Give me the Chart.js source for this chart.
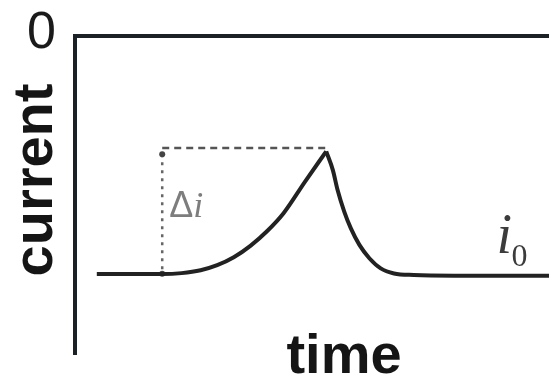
<!DOCTYPE html>
<html lang="en">

<head>
    <meta charset="UTF-8">
    <title>current vs time</title>
    <script src="https://cdn.jsdelivr.net/npm/chart.js"></script>
    <style>
        body { margin: 0; background: #fff; }
        #grafico { display: block; }
    </style>
</head>

<body>
    <canvas id="grafico" width="553" height="388"></canvas>
</body>

</html>

<script>
    // dados (tempo e corrente em unidades arbitrarias)
    var tempoSubida = [4.6, 18.4, 22.5, 26.5, 30.0, 33.5, 37.0, 40.5, 44.0, 48.5, 53.0]
    var correnteSubida = [-75.1, -75.1, -74.8, -73.9, -72.3, -69.8, -66.2, -61.6, -55.9, -46.0, -36.4]
    var tempoDescida = [53.0, 54.4, 55.4, 56.8, 58.2, 60.0, 62.1, 64.5, 67.3, 71.5, 80.0, 100]
    var correnteDescida = [-36.4, -42.3, -48.6, -55.4, -60.7, -65.9, -70.1, -73.3, -74.9, -75.4, -75.6, -75.6]

    // linhas tracejadas do delta i
    var tempoDelta = [18.4, 53.0]
    var correnteDelta = [-35.3, -75.0]

    var yTicks = [0]

    function pontos(xs, ys) {
        return xs.map((x, i) => ({ x: x, y: ys[i] }))
    }

    const corEixo = '#1b2124'

    // textos extras (titulos dos eixos, tick e rotulos)
    const rotulos = {
        id: 'rotulos',
        afterDraw(chart) {
            const c = chart.ctx
            const sx = chart.scales.x
            const sy = chart.scales.y
            c.save()

            // tick do eixo y
            c.fillStyle = '#1a1a1a'
            c.font = '52px "Liberation Sans"'
            c.textAlign = 'right'
            c.textBaseline = 'middle'
            yTicks.forEach(v => {
                c.fillText(String(v), sx.left - 19, sy.getPixelForValue(v) - 2)
            })

            c.fillStyle = '#151515'
            c.font = 'bold 56px "Liberation Sans"'
            c.textAlign = 'center'
            c.textBaseline = 'alphabetic'
            c.fillText('time', 344, 373)

            c.translate(52, 180)
            c.rotate(-Math.PI / 2)
            c.fillText('current', 0, 0)
            c.setTransform(1, 0, 0, 1, 0, 0)

            // delta i
            c.textAlign = 'left'
            c.fillStyle = '#7d7d7d'
            c.font = '36px "Liberation Sans"'
            var xd = sx.getPixelForValue(tempoDelta[0]) + 7
            var yd = sy.getPixelForValue(-57.1)
            c.fillText('Δ', xd, yd)
            var w = c.measureText('Δ').width
            c.font = 'italic 36px "Liberation Serif"'
            c.fillText('i', xd + w, yd)

            // i0
            c.fillStyle = '#3c3c3c'
            c.font = 'italic 56px "Liberation Serif"'
            var xi = sx.getPixelForValue(88.9)
            var yi = sy.getPixelForValue(-68.5)
            c.fillText('i', xi, yi)
            c.font = '32px "Liberation Serif"'
            c.fillText('0', xi + 15, yi + 13)

            c.restore()
        }
    }

    new Chart(document.getElementById('grafico'), {
        type: 'line',
        data: {
            datasets: [{
                data: pontos(tempoSubida, correnteSubida),
                borderColor: '#222',
                borderWidth: 4,
                pointRadius: 0,
                cubicInterpolationMode: 'monotone'
            }, {
                data: pontos(tempoDescida, correnteDescida),
                borderColor: '#222',
                borderWidth: 4,
                pointRadius: 0,
                cubicInterpolationMode: 'monotone'
            }, {
                // horizontal tracejada no pico
                data: [{ x: tempoDelta[0], y: correnteDelta[0] }, { x: tempoDelta[1], y: correnteDelta[0] }],
                borderColor: '#555',
                borderWidth: 2.5,
                borderDash: [7, 5],
                pointRadius: 0
            }, {
                // vertical pontilhada (delta i)
                data: [{ x: tempoDelta[0], y: correnteDelta[0] - 2 }, { x: tempoDelta[0], y: correnteDelta[1] }],
                borderColor: '#666',
                borderWidth: 2.5,
                borderDash: [3, 5],
                pointRadius: 3,
                pointBackgroundColor: '#444',
                pointBorderWidth: 0
            }]
        },
        options: {
            responsive: false,
            animation: false,
            layout: {
                padding: { left: 75, top: 36, right: 0, bottom: 35 }
            },
            plugins: {
                legend: { display: false },
                tooltip: { enabled: false }
            },
            scales: {
                x: {
                    type: 'linear',
                    min: 0,
                    max: 100,
                    display: false
                },
                y: {
                    type: 'linear',
                    min: -100,
                    max: 0,
                    afterBuildTicks: (axis) => {
                        axis.ticks = yTicks.map(v => ({ value: v }))
                    },
                    border: { display: true, color: corEixo, width: 4 },
                    grid: {
                        drawTicks: false,
                        lineWidth: 4,
                        color: (ctx) => ctx.tick && ctx.tick.value === 0 ? corEixo : 'rgba(0,0,0,0)'
                    },
                    ticks: { display: false }
                }
            }
        },
        plugins: [rotulos]
    });
</script>
